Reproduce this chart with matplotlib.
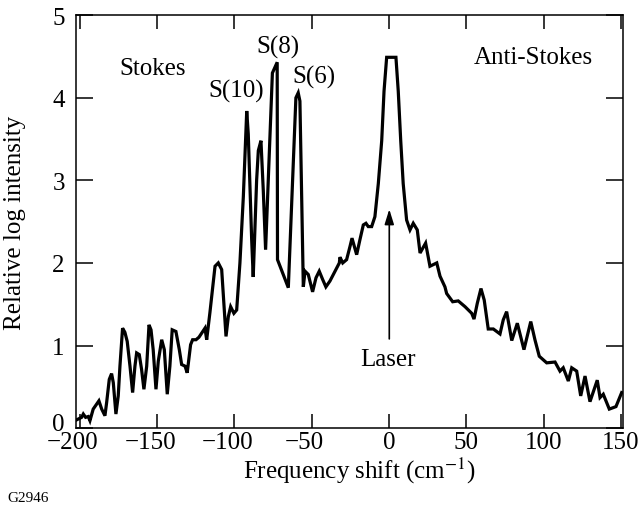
import matplotlib
matplotlib.use("Agg")
import matplotlib.pyplot as plt
from matplotlib.transforms import ScaledTranslation

# Raman spectrum
shift = [-202.0, -198.8, -197.7, -196.2, -194.5, -193.4, -191.3, -189.1, -187.6, -185.8,
         -183.7, -182.6, -180.9, -179.4, -178.3, -176.6, -175.1, -174.0, -172.3, -170.8,
         -169.3, -167.5, -165.8, -164.3, -163.2, -161.5, -160.0, -158.5, -156.7, -155.2,
         -153.9, -152.5, -150.7, -149.2, -147.0, -145.3, -143.4, -141.7, -140.2, -137.8,
         -135.6, -134.1, -131.9, -130.5, -128.3, -127.0, -124.8, -122.9, -119.0, -117.9,
         -115.8, -112.5, -110.4, -108.2, -105.4, -103.9, -102.4, -100.3, -98.5, -96.4,
         -94.2, -92.0, -91.0, -88.8, -87.8, -85.6, -84.5, -82.8, -81.3, -79.8,
         -75.4, -72.3, -72.1, -65.1, -60.2, -58.7, -57.6, -55.4, -54.3, -52.2,
         -49.4, -47.2, -45.1, -42.9, -40.8, -38.2, -34.9, -32.1, -31.7, -29.9,
         -27.4, -25.2, -23.9, -22.4, -20.9, -18.8, -16.6, -14.9, -13.4, -11.2,
         -9.1, -6.9, -4.7, -3.2, -1.5, 4.5, 6.0, 7.6, 9.2, 11.4,
         13.6, 15.7, 18.3, 20.1, 23.7, 26.5, 30.9, 33.0, 36.2, 37.3,
         41.2, 44.8, 49.2, 53.5, 55.0, 57.1, 59.5, 61.6, 64.2, 67.5,
         71.8, 73.9, 76.1, 79.4, 83.0, 87.3, 91.7, 94.4, 97.2, 102.0,
         107.4, 110.6, 112.7, 116.0, 118.2, 121.4, 124.0, 126.8, 130.0, 134.7,
         136.5, 138.6, 142.5, 146.8, 150.5]
intensity = [0.10, 0.13, 0.17, 0.13, 0.14, 0.09, 0.23, 0.29, 0.33, 0.23,
             0.15, 0.31, 0.59, 0.66, 0.55, 0.17, 0.39, 0.75, 1.21, 1.16,
             1.05, 0.75, 0.43, 0.75, 0.91, 0.89, 0.71, 0.47, 0.75, 1.25,
             1.19, 0.95, 0.47, 0.81, 1.07, 0.95, 0.41, 0.75, 1.19, 1.17,
             0.95, 0.77, 0.75, 0.67, 1.01, 1.07, 1.07, 1.10, 1.21, 1.07,
             1.40, 1.96, 2.00, 1.92, 1.11, 1.35, 1.47, 1.39, 1.43, 2.00,
             2.80, 3.84, 3.56, 2.28, 1.83, 3.00, 3.36, 3.48, 2.88, 2.16,
             4.30, 4.43, 2.04, 1.70, 4.00, 4.06, 3.96, 1.71, 1.90, 1.86,
             1.65, 1.82, 1.90, 1.80, 1.71, 1.78, 1.90, 2.00, 2.07, 2.00,
             2.04, 2.20, 2.30, 2.20, 2.10, 2.28, 2.46, 2.48, 2.44, 2.44,
             2.56, 2.96, 3.48, 4.08, 4.49, 4.49, 4.08, 3.48, 2.96, 2.52,
             2.40, 2.48, 2.40, 2.12, 2.24, 1.96, 2.00, 1.84, 1.71, 1.63,
             1.53, 1.54, 1.47, 1.39, 1.32, 1.51, 1.69, 1.55, 1.20, 1.20,
             1.14, 1.31, 1.41, 1.06, 1.27, 0.95, 1.29, 1.07, 0.87, 0.79,
             0.80, 0.69, 0.73, 0.57, 0.73, 0.69, 0.39, 0.63, 0.32, 0.58,
             0.37, 0.41, 0.23, 0.26, 0.43]

x_ticks = [-200, -150, -100, -50, 0, 50, 100, 150]
y_ticks = [0, 1, 2, 3, 4, 5]

plt.rcParams['font.family'] = ['Liberation Serif', 'DejaVu Serif']
plt.rcParams['mathtext.fontset'] = 'stix'

fig = plt.figure(figsize=(6.43, 5.06), dpi=100)
ax = fig.add_axes([0.118, 0.152, 0.851, 0.816])

ax.plot(shift, intensity, color="black", lw=2.3, solid_joinstyle="miter")

ax.set_xlim(-202.5, 151.4)
ax.set_ylim(0, 5)
ax.set_xticks(x_ticks)
ax.set_yticks(y_ticks)
ax.set_xticklabels([f"\u2212{-t}" if t < 0 else str(t) for t in x_ticks])
ax.tick_params(axis="both", direction="in", labelsize=18, width=1.1,
               top=True, right=True, color="black")
ax.tick_params(axis="x", length=10, pad=2)
ax.tick_params(axis="y", length=12, pad=8)
for s in ax.spines.values():
    s.set_linewidth(1.1)

# negative labels: digits sit on the tick, minus hangs to the left
for t, lab in zip(x_ticks, ax.get_xticklabels()):
    if t < 0:
        lab.set_transform(lab.get_transform() + ScaledTranslation(-5 / 72, 0, fig.dpi_scale_trans))
# lift the "0" a little so it clears the -200 below it
ylabs = ax.get_yticklabels()
ylabs[0].set_transform(ylabs[0].get_transform() + ScaledTranslation(0, 5 / 72, fig.dpi_scale_trans))

ax.set_xlabel("Frequency shift (cm$^{-1}$)", fontsize=18)
ax.xaxis.set_label_coords(0.519, -0.064)
ax.set_ylabel("Relative log intensity", fontsize=18, labelpad=19)

ax.text(-153, 4.29, "Stokes", fontsize=18, ha="center", va="baseline")
ax.text(-99, 4.02, "S(10)", fontsize=18, ha="center", va="baseline")
ax.text(-72, 4.55, "S(8)", fontsize=18, ha="center", va="baseline")
ax.text(-48.5, 4.19, "S(6)", fontsize=18, ha="center", va="baseline")
ax.text(93.3, 4.42, "Anti-Stokes", fontsize=18, ha="center", va="baseline")
ax.text(-0.6, 0.77, "Laser", fontsize=18, ha="center", va="baseline")

ax.annotate("", xy=(0.2, 2.65), xytext=(0.2, 1.08),
            arrowprops=dict(arrowstyle="-|>,head_length=0.9,head_width=0.28",
                            color="black", lw=1.2, shrinkA=0, shrinkB=0))

fig.text(0.011, 0.008, "G2946", fontsize=11, ha="left", va="baseline")

fig.savefig("out.png", dpi=100)
